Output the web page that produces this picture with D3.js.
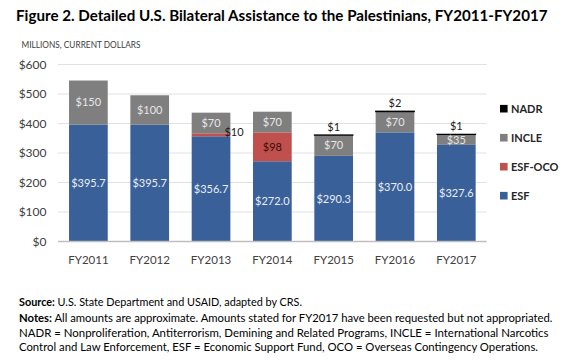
<!DOCTYPE html>
<html><head><meta charset="utf-8">
<script src="https://cdn.jsdelivr.net/npm/d3@7"></script>
<style>body{margin:0;background:#fff}svg{display:block}</style>
</head><body>
<svg id="c" width="567" height="360"></svg>
<script>
const years = ["FY2011","FY2012","FY2013","FY2014","FY2015","FY2016","FY2017"];
const esf    = [395.7, 395.7, 356.7, 272.0, 290.3, 370.0, 327.6];
const esfOco = [0, 0, 10, 98, 0, 0, 0];
const incle  = [150, 100, 70, 70, 70, 70, 35];
const nadr   = [0, 0, 0, 0, 1, 2, 1];
const yTicks = [0,100,200,300,400,500,600];
const seriesNames = ["ESF","ESF-OCO","INCLE","NADR"];
const colors = {"ESF":"#3a6099","ESF-OCO":"#c0504d","INCLE":"#7f7f7f","NADR":"#000000"};

const rows = years.map((y,i)=>({year:y,"ESF":esf[i],"ESF-OCO":esfOco[i],"INCLE":incle[i],"NADR":nadr[i]}));
const stack = d3.stack().keys(seriesNames)(rows);

const svg = d3.select("#c");
const FONT = "Lato, 'Open Sans', sans-serif";

const x = d3.scaleBand().domain(years).range([58, 486.7]).paddingInner(0.369).paddingOuter(0.18);
const y = d3.scaleLinear().domain([0,600]).range([241.5, 64.5]);

// title
svg.append("text").attr("x",16).attr("y",21).attr("font-family",FONT).attr("font-weight","bold")
  .attr("font-size",14.5).attr("fill","#000").attr("textLength",531.5).attr("lengthAdjust","spacingAndGlyphs")
  .text("Figure 2. Detailed U.S. Bilateral Assistance to the Palestinians, FY2011-FY2017");
svg.append("text").attr("x",21.5).attr("y",48.3).attr("font-family",FONT).attr("font-size",9.5)
  .attr("fill","#404040").attr("textLength",119).attr("lengthAdjust","spacingAndGlyphs")
  .text("MILLIONS, CURRENT DOLLARS");

// gridlines
svg.append("g").selectAll("line").data(yTicks.filter(d=>d>0)).join("line")
  .attr("x1",58).attr("x2",486.7).attr("y1",d=>y(d)).attr("y2",d=>y(d))
  .attr("stroke","#d9d9d9").attr("stroke-width",0.8);

// y axis labels
const yAxis = d3.axisLeft(y).tickValues(yTicks).tickFormat(d=>"$"+d).tickSize(0).tickPadding(0);
const ga = svg.append("g").attr("transform","translate(46.5,0)").call(yAxis);
ga.select(".domain").remove();
ga.selectAll("text").attr("font-family",FONT).attr("font-size",12).attr("fill","#404040");

// bars
const gs = svg.append("g").selectAll("g").data(stack).join("g").attr("fill",d=>colors[d.key]);
gs.each(function(s){
  d3.select(this).selectAll("rect").data(s).join("rect")
    .attr("x",d=>x(d.data.year)).attr("width",x.bandwidth())
    .attr("y",d=>y(d[1])).attr("height",d=>Math.max(0,y(d[0])-y(d[1])))
    .attr("stroke", s.key==="NADR" ? "#000" : "none")
    .attr("stroke-width", d=> (s.key==="NADR" && d[1]>d[0]) ? 1 : 0);
});

// baseline
svg.append("line").attr("x1",58).attr("x2",486.7).attr("y1",y(0)).attr("y2",y(0))
  .attr("stroke","#bfbfbf").attr("stroke-width",1.5);

// x labels
const xa = svg.append("g").attr("transform","translate(0,"+y(0)+")").call(d3.axisBottom(x).tickSize(0).tickPadding(0));
xa.select(".domain").remove();
xa.selectAll("text").attr("font-family",FONT).attr("font-size",11.5).attr("fill","#404040").attr("dy","1.95em");

// data labels
const lab = svg.append("g").attr("font-family",FONT).attr("font-size",11).attr("text-anchor","middle");
stack.forEach(s=>{
  s.forEach(d=>{
    const v = d[1]-d[0];
    if (v<=0) return;
    const cx = x(d.data.year)+x.bandwidth()/2;
    const mid = (y(d[0])+y(d[1]))/2;
    if (s.key==="ESF") {
      lab.append("text").attr("x",cx).attr("y",mid).attr("dy","0.35em").attr("fill","#e9eef6").text("$"+v.toFixed(1));
    } else if (s.key==="INCLE") {
      lab.append("text").attr("x",cx).attr("y",mid).attr("dy","0.35em").attr("fill","#e6e6e6").text("$"+Math.round(v));
    } else if (s.key==="ESF-OCO") {
      if (v>20) lab.append("text").attr("x",cx).attr("y",mid).attr("dy","0.35em").attr("fill","#3d0c0c").text("$"+Math.round(v));
      else lab.append("text").attr("x",x(d.data.year)+x.bandwidth()-6).attr("y",mid).attr("dy","0.1em").attr("text-anchor","start").attr("fill","#1a1a1a").text("$"+Math.round(v));
    } else if (s.key==="NADR") {
      lab.append("text").attr("x",cx).attr("y",y(d[1])-4).attr("fill","#1a1a1a").text("$"+Math.round(v));
    }
  });
});

// legend
const legOrder = ["NADR","INCLE","ESF-OCO","ESF"];
const lg = svg.append("g").selectAll("g").data(legOrder).join("g")
  .attr("transform",(d,i)=>"translate(500,"+(108.7+i*29)+")");
lg.append("rect").attr("x",0).attr("y",-3.8).attr("width",7.6).attr("height",7.6).attr("fill",d=>colors[d]);
lg.append("text").attr("x",11).attr("y",0).attr("dy","0.36em").attr("font-family",FONT).attr("font-weight","bold")
  .attr("font-size",11).attr("fill","#262626").text(d=>d);

// footer
const foot = svg.append("g").attr("font-family",FONT).attr("font-size",10.5).attr("fill","#000");
const fl = [
  {y:305.5, b:"Source:", t:" U.S. State Department and USAID, adapted by CRS.", w:283},
  {y:321.5, b:"Notes:", t:" All amounts are approximate. Amounts stated for FY2017 have been requested but not appropriated.", w:533.5},
  {y:336.5, b:"", t:"NADR = Nonproliferation, Antiterrorism, Demining and Related Programs, INCLE = International Narcotics", w:529.5},
  {y:350.5, b:"", t:"Control and Law Enforcement, ESF = Economic Support Fund, OCO = Overseas Contingency Operations.", w:519}
];
fl.forEach(l=>{
  const t = foot.append("text").attr("x",19).attr("y",l.y).attr("textLength",l.w).attr("lengthAdjust","spacingAndGlyphs");
  if (l.b) t.append("tspan").attr("font-weight","bold").text(l.b);
  t.append("tspan").text(l.t);
});
</script>
</body></html>
